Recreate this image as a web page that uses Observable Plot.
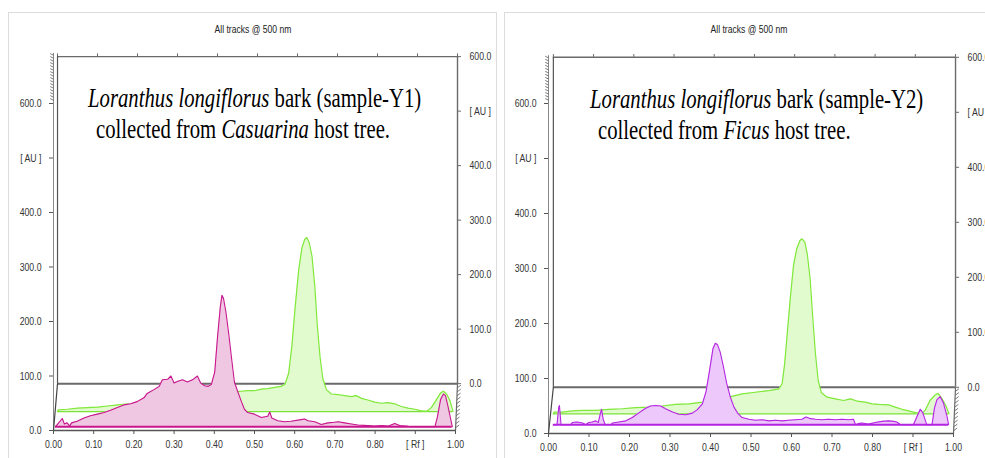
<!DOCTYPE html>
<html><head><meta charset="utf-8">
<script src="https://cdn.jsdelivr.net/npm/d3@7"></script>
<script src="https://cdn.jsdelivr.net/npm/@observablehq/plot@0.6"></script>
<style>
html,body{margin:0;padding:0;background:#fff}
#root{position:relative;width:985px;height:458px;overflow:hidden}
.frame{position:absolute;border:1px solid #dcdcdc;box-sizing:border-box}
.panel{position:absolute;top:0;height:458px;overflow:hidden}
.title{position:absolute;top:23px;width:200px;text-align:center;font-family:"Liberation Sans",Arial,sans-serif;font-size:11px;color:#222;white-space:nowrap;transform:scaleX(0.78);transform-origin:center}
.note{position:absolute;font-family:"Liberation Serif","Times New Roman",serif;font-size:28px;line-height:31px;color:#000;white-space:nowrap;transform:scaleX(0.74);transform-origin:0 0}
</style></head><body><div id="root"></div>
<script>
// ---------- data ----------
const xTicks = [0, 0.1, 0.2, 0.3, 0.4, 0.5, 0.6, 0.7, 0.8, 0.9, 1.0];
const yTicks = [0, 100, 200, 300, 400, 500, 600];
const xUnitLabel = "[ Rf ]";
const yUnitLabel = "[ AU ]";
const titles = ["All tracks @ 500 nm", "All tracks @ 500 nm"];
const noteItalic1 = ["Loranthus longiflorus", "Loranthus longiflorus"];
const noteRoman1 = [" bark (sample-Y1)", " bark (sample-Y2)"];
const hostTrees = ["Casuarina", "Ficus"];

// Panel 1 (sample-Y1) — green track (back)
const p1GreenRf = [0.010,0.012,0.035,0.060,0.085,0.110,0.135,0.159,0.201,0.284,0.367,0.409,0.450,0.467,0.483,0.500,0.517,0.533,0.550,0.566,0.576,0.585,0.593,0.601,0.610,0.618,0.625,0.630,0.636,0.643,0.650,0.656,0.663,0.670,0.679,0.691,0.708,0.724,0.741,0.753,0.766,0.782,0.799,0.816,0.832,0.849,0.865,0.882,0.899,0.915,0.928,0.940,0.953,0.963,0.970,0.978,0.986,0.994];
const p1GreenAU = [0,3,4,6,7,8,10,12,15,22,30,33,36,37,38,38,41,42,44,46,50,70,120,190,260,300,316,319,310,285,230,160,100,60,40,32,31,29,27,29,24,21,17,15,16,14,9,6,4,1,0,7,22,34,37,32,20,0];
// Panel 1 — pink track (front)
const p1PinkRf = [0.005,0.022,0.027,0.034,0.040,0.045,0.059,0.076,0.092,0.109,0.126,0.142,0.159,0.175,0.192,0.208,0.225,0.233,0.250,0.263,0.271,0.284,0.292,0.300,0.308,0.321,0.333,0.346,0.358,0.366,0.376,0.385,0.393,0.401,0.408,0.415,0.419,0.423,0.429,0.436,0.443,0.450,0.458,0.467,0.475,0.483,0.500,0.517,0.533,0.538,0.543,0.558,0.575,0.591,0.616,0.625,0.633,0.650,0.666,0.683,0.699,0.708,0.724,0.741,0.757,0.782,0.799,0.816,0.832,0.849,0.861,0.882,0.907,0.949,0.955,0.963,0.970,0.975,0.982,0.992];
const p1PinkAU = [0,15,5,7,1,7,10,16,20,23,26,30,35,40,42,46,53,61,68,74,86,87,93,80,83,86,82,86,93,80,75,74,78,100,164,220,241,235,210,170,125,82,65,47,32,26,23,17,19,27,16,11,9,10,13,14,11,9,4,7,8,9,7,5,3,2,1,2,1,6,2,0.5,0,0,18,50,60,57,35,0];

// Panel 2 (sample-Y2) — green track (back)
const p2GreenRf = [0.012,0.014,0.035,0.059,0.084,0.117,0.150,0.182,0.215,0.248,0.281,0.314,0.347,0.380,0.412,0.445,0.478,0.511,0.544,0.569,0.577,0.583,0.590,0.597,0.605,0.613,0.621,0.626,0.633,0.639,0.646,0.652,0.659,0.666,0.674,0.688,0.708,0.729,0.745,0.762,0.782,0.799,0.815,0.840,0.856,0.873,0.889,0.906,0.922,0.930,0.942,0.953,0.962,0.971,0.981,0.989];
const p2GreenAU = [0,3,3,5,6,6,8,9,11,12,14,17,18,21,25,30,36,39,42,45,55,90,150,210,270,300,315,318,312,290,245,180,110,60,38,30,27,24,27,23,21,18,17,16,12,8,5,2,1,6,24,33,37,28,15,0];
// Panel 2 — violet track (front)
const p2VioletRf = [0.012,0.021,0.025,0.027,0.031,0.055,0.059,0.071,0.084,0.092,0.100,0.108,0.117,0.123,0.128,0.131,0.135,0.140,0.154,0.158,0.174,0.191,0.207,0.224,0.240,0.252,0.265,0.277,0.289,0.306,0.322,0.339,0.355,0.367,0.380,0.389,0.398,0.406,0.412,0.417,0.424,0.432,0.440,0.449,0.458,0.468,0.478,0.495,0.511,0.528,0.544,0.560,0.577,0.593,0.610,0.626,0.636,0.647,0.659,0.675,0.692,0.708,0.725,0.741,0.753,0.758,0.766,0.774,0.790,0.807,0.823,0.840,0.852,0.860,0.869,0.901,0.910,0.918,0.924,0.934,0.947,0.953,0.959,0.967,0.975,0.984,0.988];
const p2VioletAU = [0,0,30,35,0,0,4,5,3,0,4,5,7,4,20,28,10,0,0,3,5,7,13,22,30,34,35,34,29,23,19,18,21,27,38,60,100,138,148,146,132,105,75,50,32,20,13,10,8,9,7,8,7,8,9,10,14,11,10,9,10,9,10,9,10,0,2,3,1,4,6,7,6,5,0,0,15,28,22,0,0,30,45,51,40,15,0];

// ---------- helpers ----------
const tickFont = '"Liberation Sans", Arial, sans-serif';
const tickFontSize = 11.5;
const textSqueeze = 0.76; // reference image is horizontally compressed
const fmtX = d => Math.abs(d - 0.9) < 1e-6 ? xUnitLabel : d.toFixed(2);
const fmtY = d => d === 500 ? yUnitLabel : d.toFixed(1);

const gray = "#6a6a6a";

function squeezeTexts(svg){
  svg.querySelectorAll("text").forEach(t => {
    let tr = t.getAttribute("transform");
    if (!tr || tr.indexOf("translate") < 0) {
      const x = +(t.getAttribute("x") || 0), y = +(t.getAttribute("y") || 0);
      t.removeAttribute("x"); t.removeAttribute("y");
      tr = `translate(${x},${y})` + (tr ? " " + tr : "");
    }
    t.setAttribute("transform", tr + ` scale(${textSqueeze},1)`);
  });
}

function drawPanel(p){
  const dy = p.backDy, top = 600 + dy, bx0 = p.backX0, bx1 = p.backX1;
  const green = p.greenRf.map((rf, i) => ({rf, v: p.greenBase + p.greenAU[i]}));
  const front = p.frontRf.map((rf, i) => ({rf, v: p.frontBase + p.frontAU[i]}));
  const leftHatch = d3.range(606, p.frontTop, 5.5);
  const rightHatch = d3.range(0.06, 0.98, 0.085);
  const svg = Plot.plot({
    width: 490, height: 458,
    marginLeft: p.ml, marginRight: p.mr, marginTop: 103, marginBottom: p.mb,
    x: {domain: [0, 1]},
    y: {domain: [0, 600]},
    style: {fontFamily: tickFont, fontSize: tickFontSize + "px", color: "#333", background: "transparent", overflow: "visible"},
    marks: [
      // back plane
      Plot.ruleY([top], {x1: bx0, x2: bx1, stroke: gray, strokeWidth: 1.4}),
      Plot.ruleY([dy], {x1: bx0, x2: bx1, stroke: gray, strokeWidth: 2}),
      Plot.ruleX([bx0], {y1: dy, y2: top, stroke: "#555", strokeWidth: 1.2}),
      Plot.ruleX([bx1], {y1: dy, y2: top, stroke: gray, strokeWidth: 1.4}),
      Plot.ruleX(xTicks, {x: t => bx0 + t * (bx1 - bx0), y1: top, y2: top + 5, stroke: gray}),
      Plot.ruleY(yTicks, {y: v => v + dy, x1: bx1, x2: bx1 + 0.01, stroke: gray}),
      Plot.text(yTicks, {x: bx1, y: v => v + dy, text: fmtY, textAnchor: "start", dx: 12, fill: "#333"}),
      // back track (green)
      Plot.ruleY([p.greenBase], {x1: p.greenRf[0], x2: p.greenRf[p.greenRf.length - 1], stroke: "#7ce23a", strokeWidth: 1.5}),
      Plot.areaY(green, {x: "rf", y1: p.greenBase, y2: "v", fill: "#e1fbcf"}),
      Plot.lineY(green, {x: "rf", y: "v", stroke: "#80e83a", strokeWidth: 1.2}),
      // front track
      Plot.areaY(front, {x: "rf", y1: p.frontBase, y2: "v", fill: p.frontFill}),
      Plot.lineY(front, {x: "rf", y: "v", stroke: p.frontStroke, strokeWidth: 1.1}),
      Plot.ruleY([p.frontBase], {x1: p.frontRf[0], x2: p.frontRf[p.frontRf.length - 1], stroke: p.frontStroke, strokeWidth: 2}),
      // front frame
      Plot.ruleX([0], {y1: 0, y2: p.frontTop, stroke: "#8a8a8a", strokeWidth: 1}),
      Plot.link([0], {x1: 0, y1: 0, x2: bx0, y2: dy, stroke: "#444", strokeWidth: 1.2}),
      Plot.link([0], {x1: 1, y1: 0, x2: bx1, y2: dy, stroke: gray, strokeWidth: 1.2}),
      Plot.link(rightHatch, {x1: t => 1 + t * (bx1 - 1), y1: t => t * dy, x2: t => 1 + t * (bx1 - 1) + 0.009, y2: t => t * dy + 5, stroke: gray, strokeWidth: 0.9}),
      Plot.link(leftHatch, {x1: 0, y1: v => v, x2: -0.008, y2: v => v + 3, stroke: gray, strokeWidth: 0.9}),
      Plot.ruleY([0], {x1: 0, x2: 1, stroke: "#555", strokeWidth: 1.3}),
      Plot.axisX({ticks: xTicks, tickFormat: fmtX, tickSize: 4, tickPadding: 5, label: null, stroke: "#555", fill: "#333"}),
      Plot.axisY({ticks: yTicks, tickFormat: fmtY, tickSize: 4, tickPadding: 8, label: null, stroke: "#555", fill: "#333"})
    ]
  });
  squeezeTexts(svg);
  return svg;
}

const panels = [
  {left: 0, clip: 492, ml: 53, mr: 35, mb: 28, backDy: 86, backX0: 0.01, backX1: 1.005, frontTop: 692,
   greenRf: p1GreenRf, greenAU: p1GreenAU, greenBase: 35,
   frontRf: p1PinkRf, frontAU: p1PinkAU, frontBase: 7, frontFill: "#f0c7e3", frontStroke: "#c8168c",
   titleX: 253, noteX: 88, note2X: 96, noteTop: 82},
  {left: 495, clip: 490, ml: 53, mr: 32, mb: 25, backDy: 84, backX0: 0.012, backX1: 1.005, frontTop: 687,
   greenRf: p2GreenRf, greenAU: p2GreenAU, greenBase: 36,
   frontRf: p2VioletRf, frontAU: p2VioletAU, frontBase: 16, frontFill: "#edc8fa", frontStroke: "#b424e2",
   titleX: 254, noteX: 95, note2X: 103, noteTop: 83}
];

const root = document.getElementById("root");
// frames
[[8, 12, 489, 460], [504, 12, 500, 460]].forEach(([l, t, w, h]) => {
  const f = document.createElement("div"); f.className = "frame";
  Object.assign(f.style, {left: l + "px", top: t + "px", width: w + "px", height: h + "px"});
  root.appendChild(f);
});

panels.forEach((p, i) => {
  const wrap = document.createElement("div"); wrap.className = "panel";
  wrap.style.left = p.left + "px"; wrap.style.width = p.clip + "px";
  wrap.appendChild(drawPanel(p));
  const t = document.createElement("div"); t.className = "title";
  t.textContent = titles[i]; t.style.left = (p.titleX - 100) + "px";
  wrap.appendChild(t);
  const n1 = document.createElement("div"); n1.className = "note";
  n1.style.left = p.noteX + "px"; n1.style.top = p.noteTop + "px";
  const it = document.createElement("i"); it.textContent = noteItalic1[i];
  n1.appendChild(it); n1.appendChild(document.createTextNode(noteRoman1[i]));
  wrap.appendChild(n1);
  const n2 = document.createElement("div"); n2.className = "note";
  n2.style.left = p.note2X + "px"; n2.style.top = (p.noteTop + 31) + "px";
  n2.appendChild(document.createTextNode("collected from "));
  const it2 = document.createElement("i"); it2.textContent = hostTrees[i];
  n2.appendChild(it2); n2.appendChild(document.createTextNode(" host tree."));
  wrap.appendChild(n2);
  root.appendChild(wrap);
});
</script></body></html>
